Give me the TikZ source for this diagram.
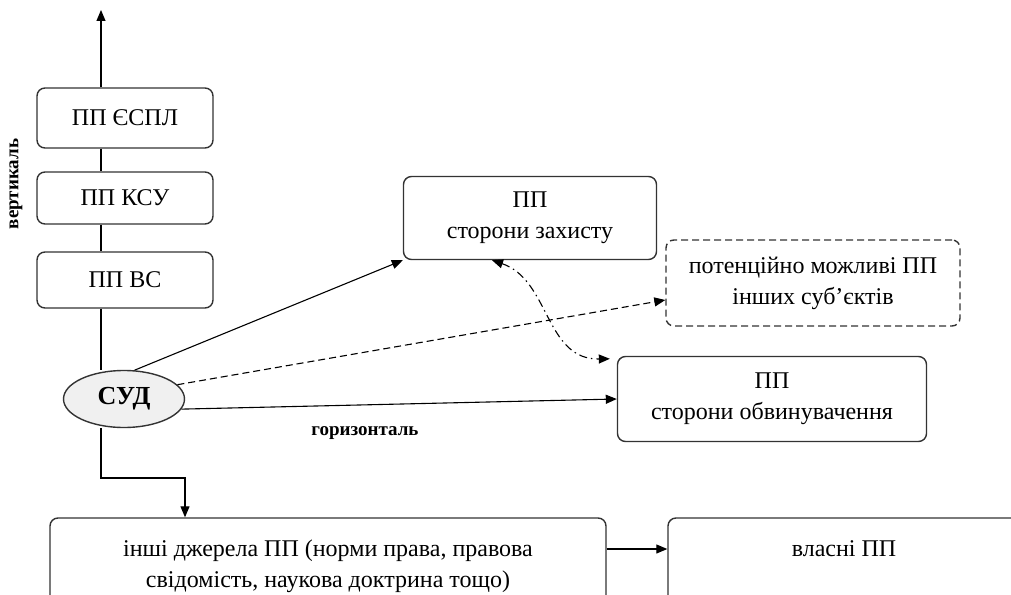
\documentclass[tikz,border=0pt]{standalone}
\usepackage{fontspec}
\setmainfont{Liberation Serif}
\usetikzlibrary{arrows.meta,shapes.geometric}

\begin{document}
\begin{tikzpicture}[x=1pt,y=-1pt,line width=1.1pt,
	>={Triangle[length=11pt,width=9pt]},
	every node/.style={font=\fontsize{24}{31}\selectfont}]
\tikzset{BoxStyle/.style =
		{shape = rectangle,
		rounded corners = 8pt,
		line width = 1.4pt,
		draw = black!80,
		align = center},
	CourtStyle/.style =
		{shape = ellipse,
		fill = gray!12,
		draw = black!80,
		line width = 1.4pt,
		minimum width = 121pt,
		minimum height = 57pt,
		inner sep = 0pt,
		font = \bfseries\fontsize{26}{28}\selectfont},
	AxisStyle/.style = {font = \bfseries\fontsize{19}{21}\selectfont}}
	\useasboundingbox (0,0) rectangle (1011,594);
	\clip (0,0) rectangle (1011,594);

	% vertical
	\coordinate (Top) at (101,10);
	\node[BoxStyle, minimum width=176pt, minimum height=60pt] (ESPL) at (125,118) {ПП ЄСПЛ};
	\node[BoxStyle, minimum width=176pt, minimum height=52pt] (KSU) at (125,198) {ПП КСУ};
	\node[BoxStyle, minimum width=176pt, minimum height=56pt] (VS) at (125,280) {ПП ВС};
	\node[CourtStyle] (Sud) at (124,399) {СУД};
	\node[AxisStyle, rotate=90] (Vert) at (16,184) {вертикаль};

	% horizontal
	\node[BoxStyle, minimum width=253pt, minimum height=83pt] (Zakhyst) at (530,218) {ПП\\сторони захисту};
	\node[BoxStyle, dash pattern=on 7pt off 4pt, minimum width=294pt, minimum height=86pt] (Inshi) at (813,283) {потенційно можливі ПП\\інших суб’єктів};
	\node[BoxStyle, minimum width=309pt, minimum height=85pt] (Obvyn) at (772,399) {ПП\\сторони обвинувачення};
	\node[AxisStyle] (Hor) at (365,433) {горизонталь};

	% bottom
	\coordinate (Elbow) at (185,478);
	\node[BoxStyle, minimum width=556pt, minimum height=96pt] (Dzherela) at (328,566) {інші джерела ПП (норми права, правова\\свідомість, наукова доктрина тощо)};
	\node[BoxStyle, minimum width=352pt, minimum height=96pt] (Vlasni) at (844,566) {};
	\node (VlasniText) at (844,549) {власні ПП};

	\draw[->] (ESPL.north -| Top) -- (Top);
	\draw (ESPL.south -| Top) -- (KSU.north -| Top);
	\draw (KSU.south -| Top) -- (VS.north -| Top);
	\draw (VS.south -| Top) -- (Sud.north -| Top);
	\draw[->] (Sud.70) -- (Zakhyst.south west);
	\draw[->, dash pattern=on 7pt off 4pt] (Sud.15) -- ([yshift=-17pt]Inshi.west);
	\draw[->] (Sud.-10) -- (Obvyn.west);
	\draw[<->, dash pattern=on 8pt off 4pt on 1.5pt off 4pt] ([xshift=-38pt]Zakhyst.south) .. controls (550,280) and (545,360) .. ([xshift=-7pt,yshift=-3pt]Obvyn.north west);
	\draw[->] (Sud.south -| Top) |- (Elbow) -- (Elbow |- Dzherela.north);
	\draw[->] (Dzherela.east |- VlasniText) -- (Vlasni.west |- VlasniText);
\end{tikzpicture}
\end{document}
